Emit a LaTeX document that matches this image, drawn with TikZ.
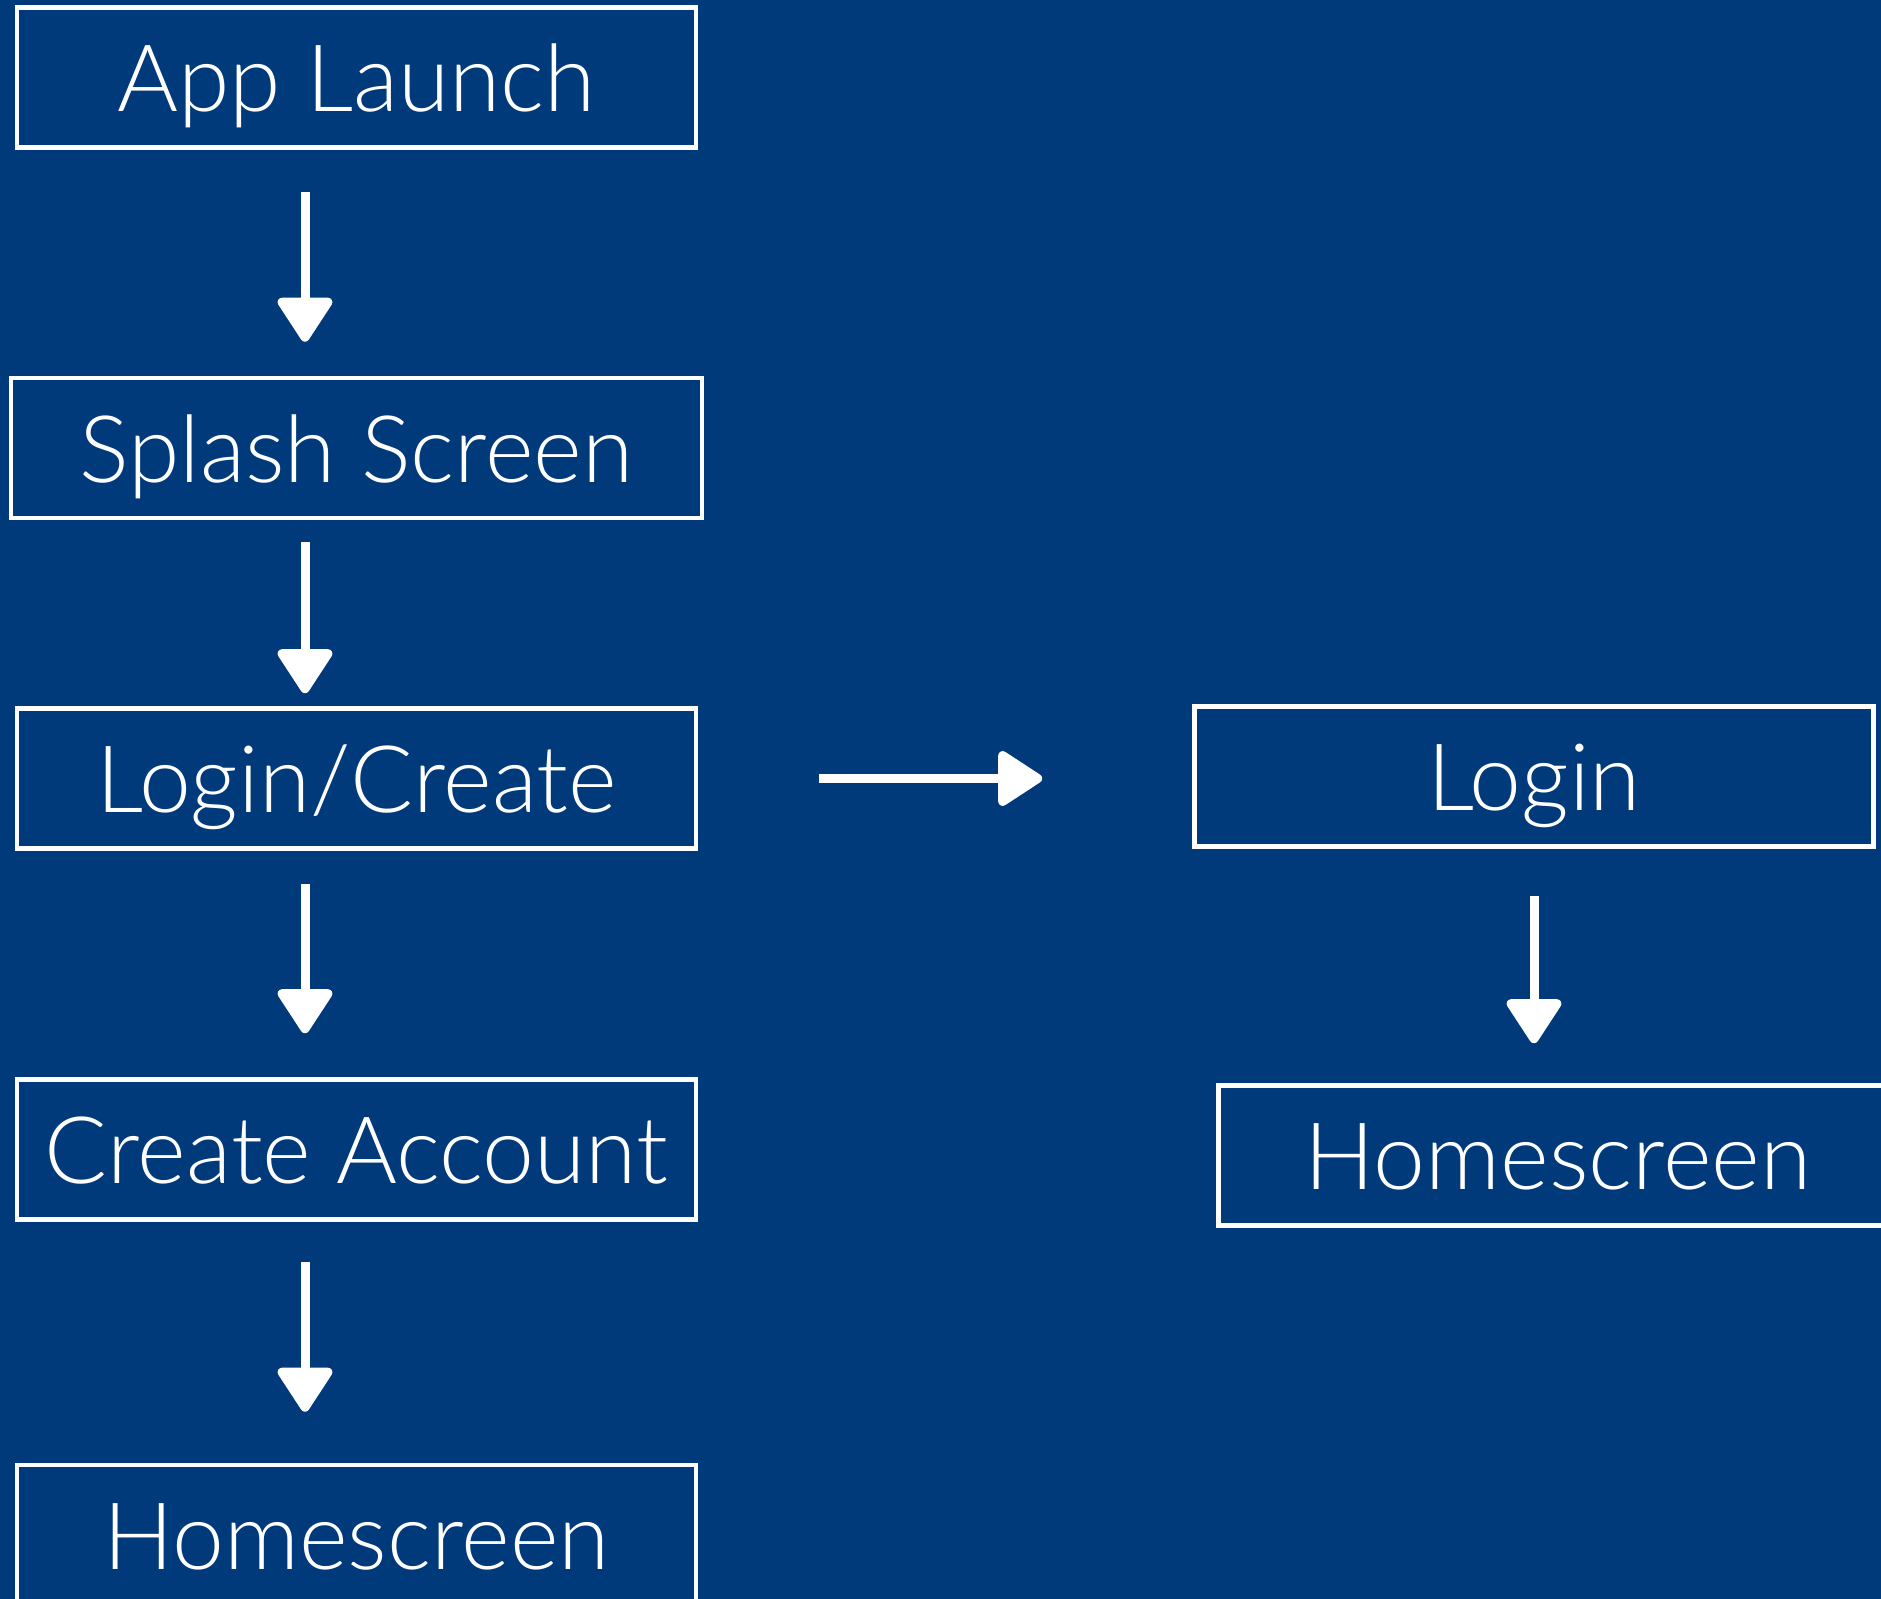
\documentclass[tikz,border=0pt]{standalone}
\usepackage{fontspec}
\setmainfont{Lato}[UprightFont={* Light}]
\usepackage{tikz}
\usetikzlibrary{arrows.meta,positioning,calc}
\definecolor{navy}{RGB}{0,58,122}
\tikzset{
	screen/.style={draw=white,line width=1.3pt,minimum width=6.79cm,minimum height=1.40cm,inner sep=0pt,text height=0.68cm,text depth=0pt,text=white,font=\fontsize{26.5}{30}\selectfont},
	chalk/.style={draw=white,line width=0.09cm,-{Triangle[width=0.6cm,length=0.48cm,round]}}
}

\begin{document}
\begin{tikzpicture}
		\clip (0,0) rectangle (18.81,-15.99);
		\fill[navy] (0,0) rectangle (18.81,-15.99);
		% left column
		\node[screen] (launch) at (3.565,-0.775) {App Launch};
		\node[screen,minimum width=6.91cm] (splash) at (3.565,-4.48) {Splash Screen};
		\node[screen] (logcreate) at (3.565,-7.785) {Login/Create};
		\node[screen] (create) at (3.565,-11.495) {Create Account};
		\node[screen] (homeA) at (3.565,-15.35) {Homescreen};
		% right column
		\node[screen] (login) at (15.34,-7.765) {Login};
		\node[screen] (homeB) at (15.58,-11.555) {Homescreen};
		% arrows
		\draw[chalk] ([xshift=-0.515cm,yshift=-0.42cm]launch.south) -- ([xshift=-0.515cm,yshift=0.34cm]splash.north);
		\draw[chalk] ([xshift=-0.515cm,yshift=-0.22cm]splash.south) -- ([xshift=-0.515cm,yshift=0.13cm]logcreate.north);
		\draw[chalk] ([xshift=-0.515cm,yshift=-0.33cm]logcreate.south) -- ([xshift=-0.515cm,yshift=0.44cm]create.north);
		\draw[chalk] ([xshift=-0.515cm,yshift=-0.40cm]create.south) -- ([xshift=-0.515cm,yshift=0.51cm]homeA.north);
		\draw[chalk] ([xshift=1.21cm]logcreate.east) -- ([xshift=-1.50cm,yshift=-0.02cm]login.west);
		\draw[chalk] ([yshift=-0.47cm]login.south) -- ([xshift=-0.24cm,yshift=0.40cm]homeB.north);
\end{tikzpicture}
\end{document}
